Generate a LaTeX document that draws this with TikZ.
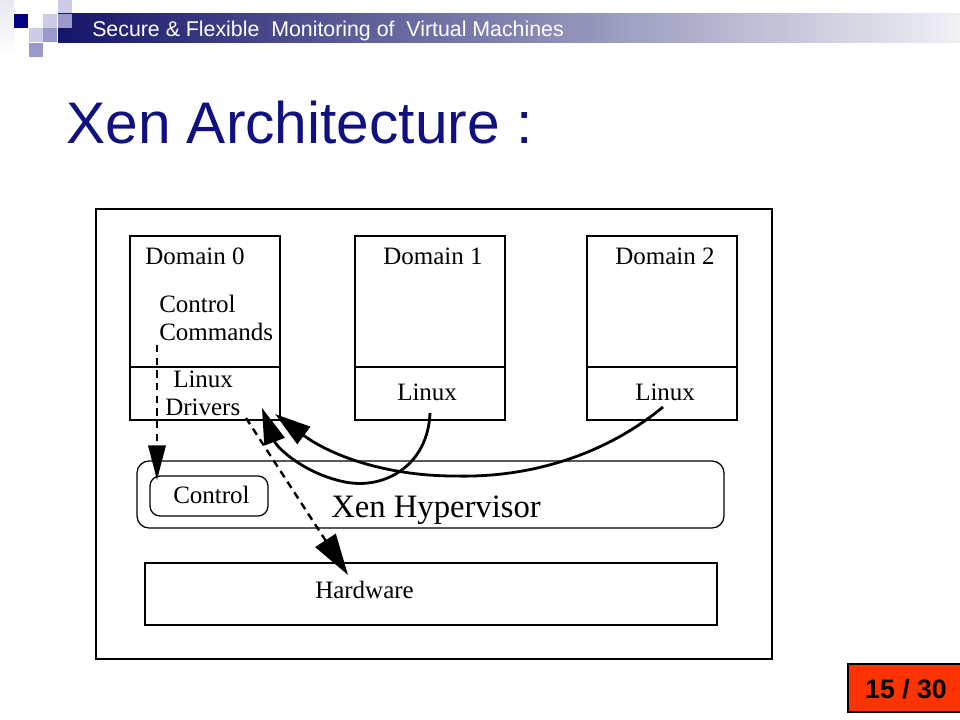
\documentclass[tikz,border=0pt]{standalone}
\usepackage{fontspec}
\setmainfont{Liberation Serif}
\newfontfamily\arialfont{Liberation Sans}
\usetikzlibrary{arrows.meta}
\definecolor{titlenavy}{RGB}{16,16,128}
\definecolor{logodark}{RGB}{0,0,128}
\definecolor{logomid}{RGB}{153,153,204}
\definecolor{logolight}{RGB}{204,204,230}
\definecolor{logopale}{RGB}{232,232,242}
\definecolor{bandL}{RGB}{20,20,105}
\definecolor{bandM}{RGB}{112,112,160}
\definecolor{bandR}{RGB}{240,240,245}
\definecolor{pagered}{RGB}{255,51,0}
\tikzset{
  thinbox/.style={draw=black, line width=0.95pt},
  lbl/.style={inner sep=0pt, anchor=base west, font=\fontsize{18.75}{22}\selectfont},
  biglbl/.style={inner sep=0pt, anchor=base west, font=\fontsize{24.5}{28}\selectfont},
  curvearrow/.style={line width=2.1pt, -{Triangle[length=27pt,width=16pt]}},
  dasharrow/.style={line width=1.8pt, dash pattern=on 5.5pt off 4pt},
}
\begin{document}
\begin{tikzpicture}[x=0.75pt,y=-0.75pt]
\useasboundingbox (0,0) rectangle (960,720);
\fill[white] (0,0) rectangle (960,720);
% logo squares
\shade[top color=logopale, bottom color=white] (0,0) rectangle (14,57);
\fill[logolight] (58,0) rectangle (72,14);
\fill[logodark] (14,14) rectangle (28,28);
\fill[logolight] (43,14) rectangle (57,28);
\fill[logolight] (29,28) rectangle (43,42);
\fill[logomid] (43,28) rectangle (57,42);
\fill[logomid] (29,43) rectangle (43,57);
% band
\shade[left color=bandL, middle color=bandM, right color=bandR] (58,14) rectangle (960,43);
\fill[logomid] (58,14) rectangle (72,28);
\node[inner sep=0pt, anchor=base west, text=white, font=\arialfont\fontsize{16}{18}\selectfont] (subtitle) at (92,37) {Secure \& Flexible\ \ Monitoring of\ \ Virtual Machines};
% title
\node[inner sep=0pt, anchor=base west, text=titlenavy, font=\arialfont\fontsize{44}{50}\selectfont] (title) at (66,144) {Xen Architecture :};
% outer frame
\draw[line width=0.8pt] (96,209) rectangle (772,659);
% domains
\draw[thinbox] (130,236) rectangle (280,420);
\draw[thinbox] (130,367) -- (280,367);
\draw[thinbox] (355,236) rectangle (505,420);
\draw[thinbox] (355,367) -- (505,367);
\draw[thinbox] (587,236) rectangle (737,420);
\draw[thinbox] (587,367) -- (737,367);
\node[lbl] (d0) at (145,265) {Domain 0};
\node[lbl] (d1) at (383,265) {Domain 1};
\node[lbl] (d2) at (615,265) {Domain 2};
\node[lbl] (ctl) at (159,312) {Control};
\node[lbl] (cmd) at (159,340) {Commands};
\node[lbl] (lin0) at (173,387) {Linux};
\node[lbl] (drv) at (165,415) {Drivers};
\node[lbl] (lin1) at (397,400) {Linux};
\node[lbl] (lin2) at (635,400) {Linux};
% hypervisor
\draw[thinbox, rounded corners=9pt] (137,461) rectangle (724,528);
\draw[thinbox, rounded corners=7.5pt] (150,476) rectangle (268,516);
\node[lbl] (ctlbox) at (173,503) {Control};
\node[biglbl] (xen) at (331,517) {Xen Hypervisor};
% hardware
\draw[thinbox] (145,563) rectangle (717,625);
\node[lbl] (hw) at (315,598) {Hardware};
% connector end points
\coordinate (cmdS) at (157,345);
\coordinate (ctlN) at (157,480);
\coordinate (drvS) at (246,418);
\coordinate (hwN) at (348,575);
\coordinate (lin1S) at (430,413);
\coordinate (lin2S) at (663,407);
\coordinate (drvA) at (262,408);
\coordinate (drvB) at (275,414);
\coordinate (botA) at (345,482);
\coordinate (botB) at (455,476);
% dashed arrows
\draw[dasharrow, -{Triangle[length=26pt,width=13pt]}] (cmdS) -- (ctlN);
\draw[dasharrow, -{Triangle[length=31pt,width=18pt]}] (drvS) -- (hwN);
% curved arrows
\draw[curvearrow] (lin1S) .. controls (428,465) and (385,490) .. (botA) .. controls (305,474) and (277,448) .. (drvA);
\draw[curvearrow] (lin2S) .. controls (605,455) and (530,478) .. (botB) .. controls (385,476) and (330,455) .. (drvB);
% page number
\draw[fill=pagered, line width=0.9pt] (848,664) rectangle (962,712);
\node[inner sep=0pt, font=\arialfont\bfseries\fontsize{20}{22}\selectfont] (pg) at (906,689) {15 / 30};
\end{tikzpicture}
\end{document}
